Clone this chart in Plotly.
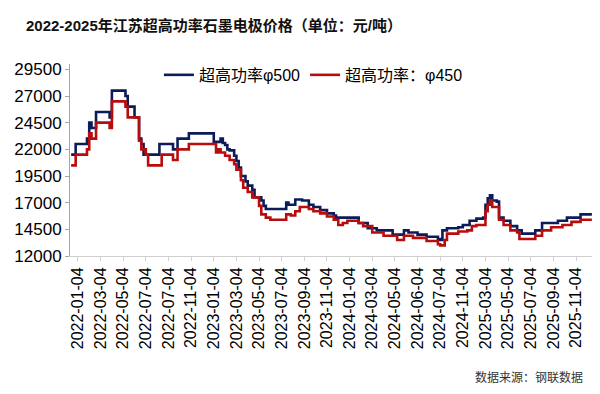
import plotly.graph_objects as go

# ---- data (sample index of each price change, price in 元/吨) ----
tick_labels = ["2022-01-04", "2022-03-04", "2022-05-04", "2022-07-04", "2022-07-04",
               "2022-11-04", "2023-01-04", "2023-03-04", "2023-05-04", "2023-07-04",
               "2023-09-04", "2023-11-04", "2024-01-04", "2024-03-04", "2024-05-04",
               "2024-06-04", "2024-07-04", "2024-11-04", "2025-03-04", "2025-05-04",
               "2025-07-04", "2025-09-04", "2025-11-04"]
tick_index = [3, 13, 23, 33, 43, 53, 63, 73, 83, 93, 103, 113, 123, 133, 143,
              153, 163, 173, 183, 193, 203, 213, 223]

phi500_idx = [0, 2, 7, 8, 9, 11, 17, 18, 24, 25, 28, 30, 31, 32, 39, 45, 47, 52, 63, 66,
              67, 68, 69, 70, 72, 73, 74, 75, 77, 78, 80, 81, 84, 85, 86, 95, 96, 99, 102,
              105, 107, 110, 113, 116, 117, 127, 131, 135, 142, 147, 149, 153, 157, 162,
              163, 164, 166, 171, 173, 176, 179, 182, 183, 184, 185, 186, 188, 189, 191,
              194, 197, 199, 205, 208, 215, 219, 225, 230]
phi500_val = [21500, 22500, 23000, 24500, 24000, 25500, 25000, 27500, 27000, 26000, 25000,
              23000, 22500, 21500, 22500, 22000, 23000, 23500, 22700, 23000, 22600, 22400,
              22000, 21900, 21400, 20900, 20300, 19500, 19000, 18600, 18200, 17500, 17200,
              16700, 16400, 17000, 16800, 17300, 17200, 16800, 16600, 16300, 16000, 15800,
              15600, 15100, 14600, 14400, 14000, 14400, 14200, 14000, 13800, 13600, 13500,
              14400, 14600, 14700, 14900, 15300, 15500, 15600, 16800, 17400, 17700, 17200,
              17100, 15600, 15300, 14800, 14400, 14100, 14400, 15100, 15300, 15600, 15900,
              15900]

phi450_idx = [0, 2, 7, 8, 9, 11, 17, 18, 24, 25, 30, 31, 33, 34, 40, 45, 47, 52, 64, 65,
              66, 68, 70, 72, 73, 75, 76, 78, 80, 83, 84, 86, 88, 95, 97, 99, 101, 105, 107,
              110, 113, 116, 118, 120, 122, 127, 129, 133, 138, 144, 147, 151, 157, 162, 163,
              165, 166, 171, 175, 177, 179, 183, 184, 185, 186, 189, 191, 194, 197, 198, 205,
              208, 212, 217, 221, 225, 230]
phi450_val = [20500, 21500, 22000, 23500, 23000, 24500, 24000, 26500, 26000, 25000, 22800,
              22000, 21500, 20500, 21500, 21000, 22000, 22500, 21700, 22000, 21700, 21400,
              21000, 20600, 20100, 19100, 18400, 18000, 17500, 16700, 15900, 15600, 15400,
              15900, 15800, 16200, 16600, 16400, 16200, 16000, 15700, 15400, 14900, 15100,
              15300, 15100, 14800, 14200, 13900, 13500, 13900, 13700, 13400, 13100, 13000,
              13500, 14100, 14300, 14400, 14800, 14900, 16200, 16800, 17200, 16600, 15400,
              14900, 14400, 14200, 13600, 13900, 14400, 14700, 14900, 15200, 15400, 15400]

y_ticks = [12000, 14500, 17000, 19500, 22000, 24500, 27000, 29500]
y_tick_text = ["12000", "14500", "17000", "19500", "22000", "24500", "27000", "29500"]

FONT = "Arial, 'Liberation Sans', 'Noto Sans CJK SC', sans-serif"

fig = go.Figure()
fig.add_trace(go.Scatter(x=phi500_idx, y=phi500_val, mode="lines", line_shape="hv",
                         name="超高功率φ500", line=dict(color="#0c1c58", width=2.6)))
fig.add_trace(go.Scatter(x=phi450_idx, y=phi450_val, mode="lines", line_shape="hv",
                         name="超高功率：φ450", line=dict(color="#b80d0d", width=2.6)))

fig.update_layout(
    width=600, height=394,
    margin=dict(l=62, r=15, t=56, b=146),
    paper_bgcolor="white", plot_bgcolor="white",
    font=dict(family=FONT, color="#000000"),
    title=dict(text="<b>2022-2025年江苏超高功率石墨电极价格（单位：元/吨）</b>",
               x=18 / 600, xanchor="left", xref="container",
               y=1 - 18 / 394, yanchor="middle", yref="container",
               font=dict(size=15, color="#111111", family=FONT)),
    legend=dict(orientation="h", x=0.17, xanchor="left", y=0.943, yanchor="middle",
                font=dict(size=16, family=FONT), bgcolor="rgba(0,0,0,0)",
                itemwidth=30, tracegroupgap=0),
    showlegend=True,
    annotations=[dict(text="数据来源：钢联数据", xref="paper", yref="paper",
                      x=1 - 8 / 523, xanchor="right", y=-121 / 192, yanchor="middle",
                      showarrow=False, font=dict(size=12, color="#333333", family=FONT))],
)

fig.update_xaxes(range=[-0.5, 230.5], tickmode="array", tickvals=tick_index,
                 ticktext=tick_labels, tickangle=-90, showgrid=False, zeroline=False,
                 showline=True, linecolor="#d0d0d0", linewidth=1, automargin=False,
                 ticks="outside", ticklen=4, tickcolor="#d0d0d0",
                 tickfont=dict(size=16, family=FONT, color="#000000"))
fig.update_yaxes(range=[12000, 30000], tickmode="array", tickvals=y_ticks,
                 ticktext=y_tick_text, automargin=False,
                 showgrid=False, zeroline=False, showline=True, linecolor="#a6a6a6",
                 linewidth=1, ticks="outside", ticklen=4, tickcolor="#a6a6a6",
                 tickfont=dict(size=17, family=FONT, color="#000000"))

fig.write_html("out.html")
